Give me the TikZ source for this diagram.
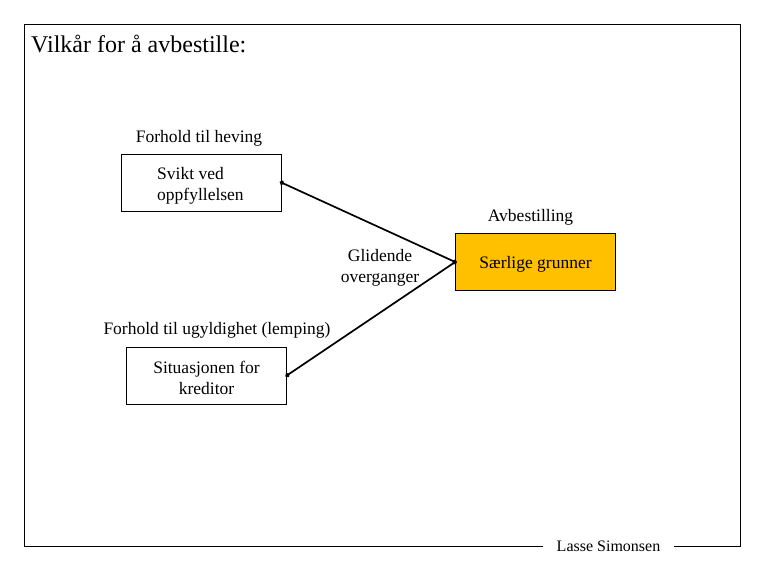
\documentclass[tikz,border=0pt]{standalone}
\usepackage{fontspec}
\setmainfont{Liberation Serif}
\usetikzlibrary{arrows.meta}
\begin{document}
\begin{tikzpicture}[x=1pt,y=-1pt,
  box/.style={draw=black, line width=0.6pt, minimum width=160pt, minimum height=57pt, inner sep=0pt, font=\fontsize{17.5}{21}\selectfont},
  lbl/.style={inner sep=0pt, font=\fontsize{17.5}{21}\selectfont},
  conn/.style={line width=1.7pt, {Circle[length=4.5pt]}-{Circle[length=4.5pt]}, shorten <=-1.5pt, shorten >=-1.5pt}]
\useasboundingbox (0,0) rectangle (765,570);
\coordinate (bl) at (24,546);
\coordinate (tl) at (24,24);
\coordinate (tr) at (740,24);
\coordinate (br) at (740,546);
\node[lbl, font=\fontsize{16}{18}\selectfont] (sig) at (608.5,546) {Lasse Simonsen};
\coordinate (sl) at (543,546);
\coordinate (sr) at (674,546);
\draw[line width=0.6pt] (sl) -- (bl) -- (tl) -- (tr) -- (br) -- (sr);
\node[lbl, anchor=west, font=\fontsize{24}{28}\selectfont] (title) at (31,44) {Vilkår for å avbestille:};
\node[box] (svikt) at (201,182.5) {};
\node[lbl, anchor=west, align=left] (sviktt) at (157,186) {Svikt ved\\oppfyllelsen};
\node[box, fill={rgb,255:red,255;green,192;blue,0}] (saer) at (535.5,262) {};
\node[lbl] (saert) at (535.5,264.5) {Særlige grunner};
\node[box] (sit) at (206.5,375.5) {};
\node[lbl, align=center] (sitt) at (206.5,378) {Situasjonen for\\kreditor};
\node[lbl] (heving) at (199,138) {Forhold til heving};
\node[lbl] (avb) at (530.5,217) {Avbestilling};
\node[lbl, align=center] (glid) at (380,268) {Glidende\\overganger};
\node[lbl] (ugyld) at (217,330) {Forhold til ugyldighet (lemping)};
\draw[conn] (svikt.east) -- (saer.west);
\draw[conn] (sit.east) -- (saer.west);
\end{tikzpicture}
\end{document}
